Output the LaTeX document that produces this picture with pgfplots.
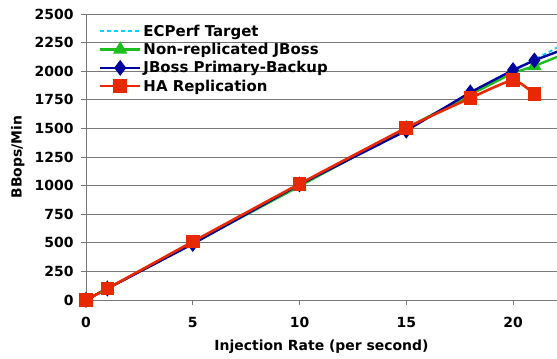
\documentclass[border=0pt]{standalone}
\usepackage{pgfplots}
\pgfplotsset{compat=1.18}
\usepackage{fontspec}
\setmainfont{DejaVu Sans}
\usetikzlibrary{calc}
\definecolor{cgreen}{RGB}{30,190,30}
\definecolor{cblue}{RGB}{0,0,160}
\definecolor{cred}{RGB}{232,40,0}
\definecolor{ccyan}{RGB}{0,210,255}
\definecolor{cgrid}{RGB}{120,120,120}
\begin{document}
\begin{tikzpicture}
\begin{axis}[name=ax, scale only axis, width=471bp, height=286bp,
  xmin=0, xmax=22.06, ymin=0, ymax=2500,
  xtick={0,5,10,15,20}, ytick={0,250,...,2500},
  ymajorgrids, grid style={cgrid, line width=0.9pt},
  axis x line*=bottom, axis y line*=left,
  axis line style={cgrid, line width=1pt, -},
  tick style={cgrid, line width=0.9pt}, tick align=outside, major tick length=5bp,
  font=\fontsize{14}{16}\selectfont\bfseries,
  /pgf/number format/assume math mode=true,
  /pgf/number format/1000 sep={},
  xticklabel style={yshift=-9bp},
  yticklabel style={xshift=-4bp},
  xlabel={Injection Rate (per second)},
  ylabel={BBops/Min},
  xlabel style={at={(axis description cs:0.5,-0.165)}, anchor=center},
  ylabel style={at={(axis description cs:-0.145,0.5)}, anchor=center},
  legend style={at={(axis description cs:0.027,0.97)}, anchor=north west, draw=none, fill=none,
    row sep=1.5bp, inner sep=0pt, font=\fontsize{15}{17}\selectfont\bfseries},
  legend cell align=left,
  legend image code/.code={\draw[mark repeat=2,mark phase=2] plot coordinates {(0bp,0bp) (20bp,0bp) (40bp,0bp)};},
]
\addplot[ccyan, line width=2pt, dash pattern=on 4bp off 3bp, no marks] coordinates {
 (0,0) (1,100) (5,500) (10,1000) (15,1500) (18,1800) (20,2000) (21,2100) (23,2300)};
\addlegendentry{ECPerf Target}
\addplot[cgreen, line width=2.4pt, mark=triangle*, mark size=6bp, mark options={solid}] coordinates {
 (0,0) (1,100) (5,495) (10,995) (15,1500) (18,1795) (20,1985) (21,2045) (23,2195)};
\addlegendentry{Non-replicated JBoss}
\addplot[cblue, line width=2.4pt, mark=diamond*, mark size=6bp, mark options={solid}] coordinates {
 (0,0) (1,100) (5,490) (10,1010) (15,1480) (18,1815) (20,2010) (21,2095) (23,2235)};
\addlegendentry{JBoss Primary-Backup}
\addplot[cred, line width=2.6pt, mark=square*, mark size=5.5bp, mark options={solid}, smooth, tension=0.3] coordinates {
 (0,0) (1,100) (5,510) (10,1015) (15,1505) (18,1765) (20,1922) (21,1800)};
\addlegendentry{HA Replication}
\end{axis}
\pgfresetboundingbox
\path[use as bounding box] ($(ax.south west)+(-86bp,-59bp)$) rectangle ($(ax.north east)+(0bp,14bp)$);
\end{tikzpicture}
\end{document}
